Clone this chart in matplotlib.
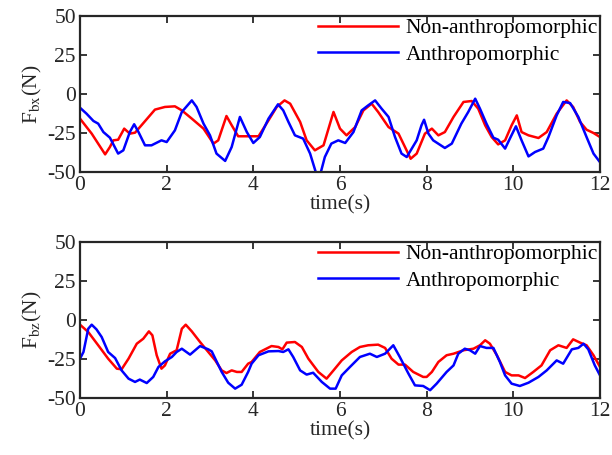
import matplotlib
matplotlib.use("Agg")
import matplotlib.pyplot as plt

plt.rcParams['font.family'] = ['Liberation Serif', 'DejaVu Serif']
plt.rcParams['mathtext.fontset'] = 'stix'
plt.rcParams['axes.unicode_minus'] = False

# ---- top panel (F_bx) ----
t_bx_non = [0, 0.27, 0.58, 0.69, 0.77, 0.88, 1.02, 1.15, 1.27, 1.42, 1.73, 1.96, 2.19, 2.35, 2.58, 2.85,
            3.08, 3.19, 3.38, 3.5, 3.65, 3.81, 4.12, 4.35, 4.54, 4.72, 4.85, 5.08, 5.23, 5.42, 5.62, 5.85,
            6.0, 6.15, 6.35, 6.54, 6.73, 6.88, 7.12, 7.35, 7.5, 7.63, 7.77, 7.96, 8.12, 8.27, 8.42, 8.62,
            8.85, 9.04, 9.19, 9.35, 9.5, 9.65, 9.81, 9.96, 10.08, 10.19, 10.35, 10.58, 10.77, 11.0, 11.23,
            11.38, 11.54, 11.69, 11.85, 12.0]
v_bx_non = [-15.8, -25.4, -38.7, -34, -29.7, -29.3, -22.2, -25.4, -24.8, -20, -10, -8.3, -7.9, -10.5, -15.8, -22.2,
            -31.8, -29.7, -14.1, -20, -27.1, -27.1, -27.1, -16.9, -8.3, -4.1, -6.2, -17.9, -29.7, -36.1, -32.9, -11.5,
            -22.2, -26.5, -21.2, -10.5, -6.2, -11.5, -21.2, -25.4, -34, -41.5, -38.2, -25.4, -22.2, -26.5, -24.4, -14.7,
            -5.1, -4.5, -9.4, -20.1, -27.6, -32.3, -29.7, -20.1, -13.7, -24.4, -26.5, -28.2, -24.4, -12.6, -4.1,
            -8.3, -17.9, -22.9, -25, -27.6]

t_bx_anth = [0, 0.15, 0.31, 0.42, 0.54, 0.69, 0.88, 1.0, 1.15, 1.25, 1.35, 1.5, 1.65, 1.88, 2.0, 2.19, 2.35,
             2.58, 2.69, 2.85, 3.0, 3.15, 3.35, 3.5, 3.69, 3.85, 4.0, 4.15, 4.35, 4.57, 4.69, 4.81, 4.96, 5.15,
             5.31, 5.44, 5.54, 5.65, 5.8, 5.96, 6.12, 6.31, 6.5, 6.65, 6.81, 6.96, 7.12, 7.27, 7.42, 7.54, 7.77,
             7.88, 7.94, 8.04, 8.15, 8.42, 8.58, 8.8, 8.96, 9.12, 9.23, 9.38, 9.54, 9.65, 9.81, 9.92, 10.06,
             10.19, 10.35, 10.5, 10.69, 10.81, 11.0, 11.15, 11.31, 11.5, 11.69, 11.85, 11.98]
v_bx_anth = [-8.8, -12.6, -17.3, -19, -24.4, -28, -38.2, -36.1, -24.4, -19.4, -24.4, -32.9, -32.9, -29.7, -30.8, -23.3, -11.5,
             -4.1, -8.3, -19, -26.5, -38.2, -42.9, -34, -14.7, -24.4, -31.4, -27.6, -15.8, -6.6, -10.5, -17.9, -26.5, -28.6,
             -38.2, -50, -52, -40.4, -31.8, -29.7, -31.4, -24.4, -10.5, -7.3, -4.1, -9.4, -14.7, -27.6, -38.2, -40.4, -29.7,
             -20.1, -16.5, -25.4, -29.7, -34.6, -31.8, -19, -11.5, -3, -9.4, -19, -28, -29.3, -35, -28.6, -20.7,
             -29.7, -40, -37.2, -35, -27.6, -13.7, -5.1, -5.8, -14.7, -27.6, -38.2, -43]

# ---- bottom panel (F_bz) ----
t_bz_non = [0, 0.19, 0.42, 0.65, 0.85, 0.96, 1.12, 1.31, 1.46, 1.59, 1.67, 1.77, 1.88, 1.96, 2.08, 2.23, 2.35,
            2.44, 2.58, 2.77, 2.96, 3.12, 3.27, 3.38, 3.5, 3.62, 3.73, 3.88, 3.96, 4.15, 4.42, 4.58, 4.67, 4.77,
            4.96, 5.12, 5.27, 5.5, 5.69, 5.85, 6.04, 6.27, 6.46, 6.65, 6.88, 7.04, 7.19, 7.35, 7.5, 7.69, 7.92,
            8.0, 8.12, 8.27, 8.46, 8.62, 8.85, 9.08, 9.23, 9.35, 9.46, 9.62, 9.81, 9.96, 10.12, 10.27, 10.46,
            10.65, 10.85, 11.04, 11.23, 11.38, 11.54, 11.69, 11.85, 12.0]
v_bz_non = [-3, -7.7, -16.2, -24.8, -31.2, -31.6, -24.8, -15.2, -12, -7.3, -9.8, -22.6, -31.2, -29.1, -21.6, -19.4, -5.6,
            -3, -7.3, -14.1, -20.5, -25.9, -32.3, -34, -32.3, -33.3, -33.3, -28, -26.9, -20.5, -16.7, -17.3, -18.8, -14.5,
            -14.1, -17.3, -24.8, -33.3, -37.6, -32.3, -25.9, -20.5, -17.3, -16.2, -15.8, -17.9, -24.8, -28.6, -28.6, -33.3, -36.5,
            -36.5, -33.3, -26.9, -22.6, -21.6, -19.4, -18.4, -16.2, -13, -15.2, -22.6, -33.3, -35.5, -35.5, -37.2, -33.3,
            -29.1, -19.4, -16.2, -17.9, -12.4, -14.5, -16.2, -22.6, -30.1]

t_bz_anth = [0, 0.08, 0.19, 0.27, 0.38, 0.5, 0.65, 0.81, 0.96, 1.12, 1.27, 1.38, 1.54, 1.69, 1.81, 1.96, 2.12,
             2.23, 2.35, 2.54, 2.77, 2.96, 3.04, 3.27, 3.42, 3.58, 3.73, 3.88, 3.96, 4.12, 4.35, 4.58, 4.69, 4.81,
             4.92, 5.08, 5.23, 5.38, 5.58, 5.77, 5.9, 6.04, 6.23, 6.46, 6.69, 6.85, 7.04, 7.23, 7.38, 7.58, 7.73,
             7.92, 8.08, 8.23, 8.46, 8.62, 8.73, 8.88, 9.0, 9.12, 9.23, 9.38, 9.54, 9.69, 9.81, 9.96, 10.15,
             10.35, 10.58, 10.77, 11.0, 11.15, 11.35, 11.5, 11.62, 11.73, 11.88, 12.0]
v_bz_anth = [-24.8, -20.5, -5.6, -3, -6, -10.9, -20.5, -24.4, -32.3, -37.6, -39.7, -38.2, -40.4, -36.5, -30.1, -26.5, -23.7,
             -20.5, -18.4, -22.2, -16.7, -18.8, -20.1, -33.3, -40.2, -44, -41.5, -33.3, -28, -22.6, -20.1, -19.9, -20.5, -18.8,
             -23.7, -32.3, -35, -33.8, -39.7, -44, -44, -35.5, -30.1, -23.7, -21.6, -23.7, -21.6, -16.2, -23.7, -34.4, -41.9,
             -42.3, -45, -40.8, -33.3, -29.1, -21.6, -18.4, -19.4, -21.6, -16.7, -17.9, -17.9, -26.9, -35.5, -40.8, -42.3,
             -40.2, -36.5, -32.3, -25.9, -28, -18.8, -17.9, -15.2, -18.8, -29.1, -35.5]

x_ticks = [0, 2, 4, 6, 8, 10, 12]
y_ticks = [-50, -25, 0, 25, 50]
labels = ['Non-anthropomorphic', 'Anthropomorphic']
ylabels = [r'F$_{\mathrm{bx}}$(N)', r'F$_{\mathrm{bz}}$(N)']

FS = 15.5
W, H = 612, 455
fig = plt.figure(figsize=(W / 100, H / 100), dpi=100)
ax1 = fig.add_axes([80 / W, 1 - 172 / H, 520 / W, 156 / H])
ax2 = fig.add_axes([80 / W, 1 - 398 / H, 520 / W, 156 / H])

panels = [(ax1, t_bx_non, v_bx_non, t_bx_anth, v_bx_anth, ylabels[0]),
          (ax2, t_bz_non, v_bz_non, t_bz_anth, v_bz_anth, ylabels[1])]

for ax, tn, vn, ta, va, yl in panels:
    ax.plot(tn, vn, color='#ff0000', lw=1.8, label=labels[0])
    ax.plot(ta, va, color='#0000ff', lw=1.8, label=labels[1])
    ax.set_xlim(0, 12)
    ax.set_ylim(-50, 50)
    ax.set_xticks(x_ticks)
    ax.set_yticks(y_ticks)
    ax.tick_params(direction='in', top=True, right=True, length=5, width=1.3,
                   labelsize=FS, pad=3, colors='#262626')
    for s in ax.spines.values():
        s.set_linewidth(1.6)
        s.set_color('#262626')
    ax.set_xlabel('time(s)', fontsize=FS, labelpad=0, color='#262626')
    ax.set_ylabel(yl, fontsize=FS, labelpad=2, color='#262626')
    ax.legend(loc='upper right', frameon=False, fontsize=FS, handlelength=3.7,
              handletextpad=0.35, labelspacing=0.3, borderaxespad=0.0,
              borderpad=0.1)

fig.savefig('out.png', dpi=100)
